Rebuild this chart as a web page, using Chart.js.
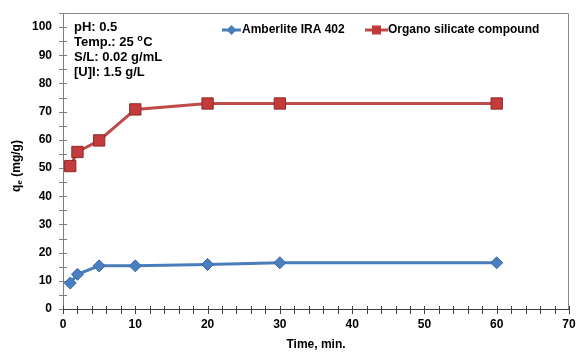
<!DOCTYPE html>
<html>
<head>
<meta charset="utf-8">
<script src="https://cdn.jsdelivr.net/npm/chart.js@4.4.1/dist/chart.umd.min.js"></script>
<style>
  html, body { margin: 0; padding: 0; background: #fff; }
  #contenedor { width: 578px; height: 352px; }
</style>
</head>
<body>
<div id="contenedor"><canvas id="cineticaChart"></canvas></div>
<script>
// Datos
const tiempos = [1, 2, 5, 10, 20, 30, 60];
const amberlite = [9.2, 12.3, 15.3, 15.3, 15.8, 16.4, 16.4];
const organoSilicato = [50.7, 55.7, 59.8, 70.8, 72.9, 72.9, 72.9];
const nombresSeries = ['Amberlite IRA 402', 'Organo silicate compound'];
const condiciones = ['pH: 0.5', 'Temp.: 25 ºC', 'S/L: 0.02 g/mL', '[U]I: 1.5 g/L'];
const ticksX = [0, 10, 20, 30, 40, 50, 60, 70];
const ticksY = [0, 10, 20, 30, 40, 50, 60, 70, 80, 90, 100];

const AZUL = '#4a7ebb';
const ROJO = '#be4b48';
const FUENTE = '"Liberation Sans", Arial, sans-serif';

Chart.defaults.font.family = FUENTE;
Chart.defaults.color = '#000';

// Marco, marcas de ejes, leyenda y textos
const adornos = {
    id: 'adornos',
    beforeDatasetsDraw(chart) {
        const { ctx, chartArea: a, scales: { x, y } } = chart;
        ctx.save();
        ctx.lineWidth = 1;
        // marco superior y derecho
        ctx.strokeStyle = '#8a8a8a';
        ctx.beginPath();
        ctx.moveTo(a.left + 0.5, a.top + 0.5);
        ctx.lineTo(a.right - 0.5, a.top + 0.5);
        ctx.lineTo(a.right - 0.5, a.bottom);
        ctx.stroke();
        // eje Y
        ctx.strokeStyle = '#7f7f7f';
        ctx.beginPath();
        ctx.moveTo(a.left + 0.5, a.top);
        ctx.lineTo(a.left + 0.5, a.bottom + 4);
        y.ticks.forEach(t => {
            const py = Math.round(y.getPixelForValue(t.value)) + 0.5;
            ctx.moveTo(a.left - 4, py);
            ctx.lineTo(a.left + 4, py);
        });
        ctx.stroke();
        // eje X
        ctx.strokeStyle = '#404040';
        ctx.beginPath();
        ctx.moveTo(a.left, a.bottom + 0.5);
        ctx.lineTo(a.right, a.bottom + 0.5);
        x.ticks.forEach(t => {
            const px = Math.round(x.getPixelForValue(t.value)) + 0.5;
            ctx.moveTo(px, a.bottom - 3);
            ctx.lineTo(px, a.bottom + 5);
        });
        ctx.stroke();
        ctx.restore();
    },
    afterDraw(chart) {
        const { ctx, chartArea: a } = chart;
        ctx.save();
        ctx.fillStyle = '#000';
        ctx.textBaseline = 'middle';
        ctx.textAlign = 'left';

        // condiciones experimentales
        condiciones.forEach((linea, i) => {
            const yy = a.top + 14 + i * 15;
            ctx.font = 'bold 13px ' + FUENTE;
            if (linea.includes('º')) {
                const partes = linea.split('º');
                ctx.fillText(partes[0], a.left + 11, yy);
                let xx = a.left + 11 + ctx.measureText(partes[0]).width;
                ctx.font = 'bold 9px ' + FUENTE;
                ctx.fillText('o', xx, yy - 3);
                xx += ctx.measureText('o').width + 0.5;
                ctx.font = 'bold 13px ' + FUENTE;
                ctx.fillText(partes[1], xx, yy);
            } else {
                ctx.fillText(linea, a.left + 11, yy);
            }
        });

        // leyenda
        const ly = a.top + 17;
        ctx.font = 'bold 12px ' + FUENTE;
        // serie 1
        ctx.strokeStyle = AZUL;
        ctx.lineWidth = 3;
        ctx.beginPath();
        ctx.moveTo(222, ly); ctx.lineTo(241, ly);
        ctx.stroke();
        ctx.fillStyle = AZUL;
        ctx.beginPath();
        ctx.moveTo(231.5, ly - 5); ctx.lineTo(236.5, ly); ctx.lineTo(231.5, ly + 5); ctx.lineTo(226.5, ly);
        ctx.closePath();
        ctx.fill();
        ctx.fillStyle = '#000';
        ctx.fillText(nombresSeries[0], 242, ly);
        // serie 2
        ctx.strokeStyle = ROJO;
        ctx.beginPath();
        ctx.moveTo(365, ly); ctx.lineTo(388, ly);
        ctx.stroke();
        ctx.fillStyle = '#c0393b';
        ctx.fillRect(372, ly - 4.5, 9, 9);
        ctx.fillStyle = '#000';
        ctx.fillText(nombresSeries[1], 388, ly);

        // título del eje Y con subíndice
        ctx.translate(17, (a.top + a.bottom) / 2 + 5);
        ctx.rotate(-Math.PI / 2);
        ctx.font = 'bold 12px ' + FUENTE;
        const wq = ctx.measureText('q').width;
        const wr = ctx.measureText(' (mg/g)').width;
        ctx.font = 'bold 8px ' + FUENTE;
        const we = ctx.measureText('e').width;
        let x0 = -(wq + we + wr) / 2;
        ctx.font = 'bold 12px ' + FUENTE;
        ctx.fillText('q', x0, 0);
        ctx.font = 'bold 8px ' + FUENTE;
        ctx.fillText('e', x0 + wq, 3);
        ctx.font = 'bold 12px ' + FUENTE;
        ctx.fillText(' (mg/g)', x0 + wq + we, 0);
        ctx.restore();
    }
};

const ctx = document.getElementById('cineticaChart').getContext('2d');
const cineticaChart = new Chart(ctx, {
    type: 'line',
    data: {
        datasets: [
            {
                label: nombresSeries[0],
                data: tiempos.map((t, i) => ({ x: t, y: amberlite[i] })),
                borderColor: AZUL,
                borderWidth: 3,
                backgroundColor: AZUL,
                pointStyle: 'rectRot',
                pointRadius: 6,
                pointBackgroundColor: '#4a7fc1',
                pointBorderColor: '#3a68a3',
                pointBorderWidth: 1,
                tension: 0
            },
            {
                label: nombresSeries[1],
                data: tiempos.map((t, i) => ({ x: t, y: organoSilicato[i] })),
                borderColor: ROJO,
                borderWidth: 3,
                backgroundColor: ROJO,
                pointStyle: 'rect',
                pointRadius: 8,
                pointBackgroundColor: '#c53a3a',
                pointBorderColor: '#8e2a2a',
                pointBorderWidth: 1,
                tension: 0
            }
        ]
    },
    options: {
        responsive: true,
        maintainAspectRatio: false,
        animation: false,
        layout: { padding: { top: 13, right: 6, left: 0, bottom: 0 } },
        plugins: {
            legend: { display: false },
            tooltip: { enabled: false }
        },
        scales: {
            x: {
                type: 'linear',
                min: 0,
                max: 70,
                afterFit: s => { s.height = 43; s.paddingLeft = 0; s.paddingRight = 0; },
                grid: { display: false, drawTicks: false },
                border: { display: false },
                ticks: {
                    stepSize: 2,
                    autoSkip: false,
                    maxRotation: 0,
                    padding: 8,
                    font: { size: 12, weight: 'bold' },
                    callback: v => ticksX.includes(v) ? v : ''
                },
                title: {
                    display: true,
                    text: 'Time, min.',
                    font: { size: 12, weight: 'bold' },
                    padding: { top: 0, bottom: 0 }
                }
            },
            y: {
                min: 0,
                max: 105,
                afterFit: s => { s.width = 63; s.paddingTop = 0; s.paddingBottom = 0; },
                grid: { display: false, drawTicks: false },
                border: { display: false },
                ticks: {
                    stepSize: 5,
                    autoSkip: false,
                    padding: 11,
                    font: { size: 12, weight: 'bold' },
                    callback: v => ticksY.includes(v) ? v : ''
                }
            }
        }
    },
    plugins: [adornos]
});
</script>
</body>
</html>
